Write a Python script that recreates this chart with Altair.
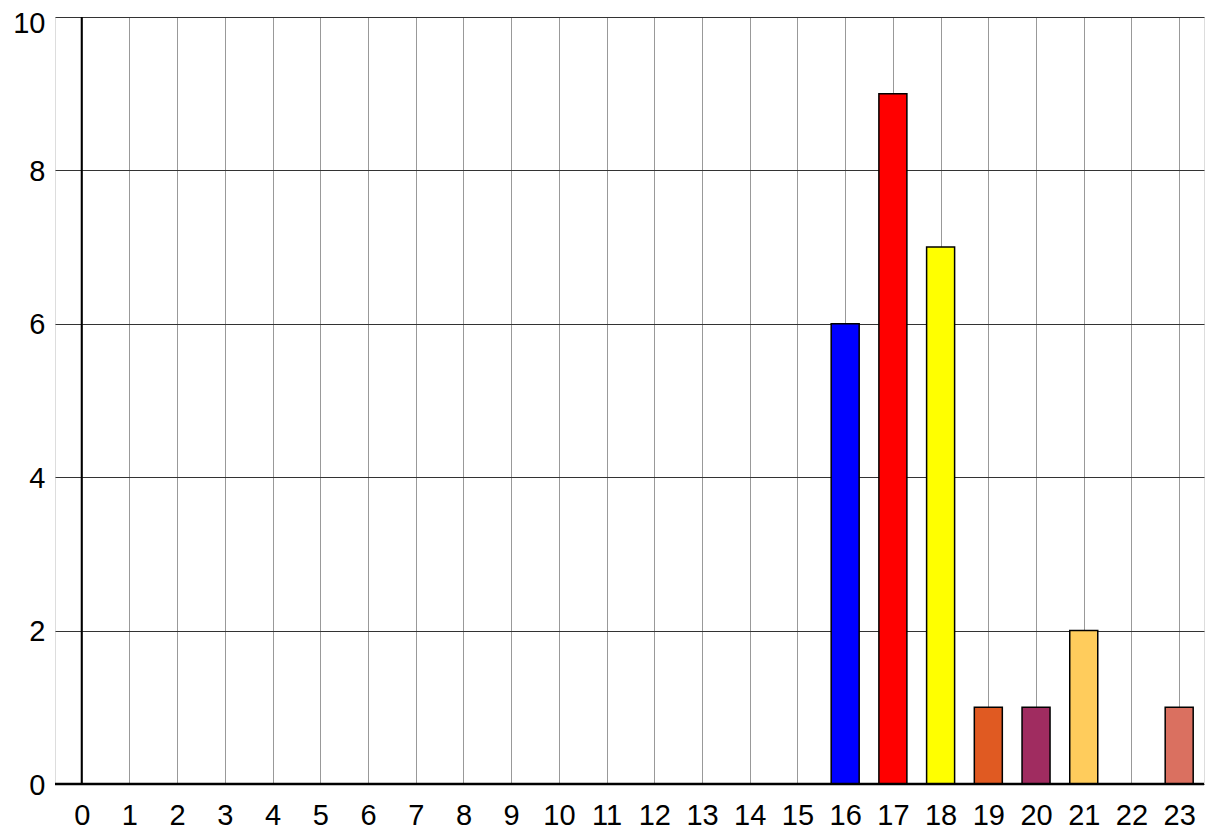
import altair as alt
import pandas as pd

hours = [0, 1, 2, 3, 4, 5, 6, 7, 8, 9, 10, 11, 12, 13, 14, 15, 16, 17, 18, 19, 20, 21, 22, 23]
counts = [0, 0, 0, 0, 0, 0, 0, 0, 0, 0, 0, 0, 0, 0, 0, 0, 6, 9, 7, 1, 1, 2, 0, 1]
colors = ["#cccccc"] * 16 + ["#0000FF", "#FF0000", "#FFFF00", "#E05A22", "#A02C60",
                             "#FFCC5C", "#cccccc", "#DA7060"]
y_ticks = [0, 2, 4, 6, 8, 10]

df = pd.DataFrame({"hour": hours, "count": counts, "color": colors})

FONT = "Liberation Sans"

x_scale = alt.Scale(domain=[-0.56, 23.52], nice=False, zero=False, padding=0)
y_scale = alt.Scale(domain=[0, 10], nice=False)

bars = alt.Chart(df).transform_filter(alt.datum["count"] > 0).mark_bar(
    size=28, stroke="black", strokeWidth=1.5
).encode(
    x=alt.X("hour:Q", scale=x_scale,
            axis=alt.Axis(values=hours, title=None, grid=True, gridColor="#999999",
                          gridWidth=1, gridOpacity=1, domain=False, ticks=False,
                          format="d",
                          labelFont=FONT, labelFontSize=29, labelColor="black",
                          labelPadding=17, labelFlush=False, labelOverlap=False)),
    y=alt.Y("count:Q", scale=y_scale,
            axis=alt.Axis(values=y_ticks, title=None, grid=True, gridColor="#333333",
                          gridWidth=1, gridOpacity=1, domain=False, ticks=False,
                          format="d",
                          labelBaseline={"condition": {"test": "datum.value == 10", "value": "top"},
                                         "value": "middle"},
                          labelOffset={"condition": {"test": "datum.value == 10", "value": -8},
                                       "value": 1},
                          labelFont=FONT, labelFontSize=29, labelColor="black",
                          labelPadding=10, labelFlush=False, labelOverlap=False)),
    color=alt.Color("color:N", scale=None, legend=None),
)

zero_v = alt.Chart(pd.DataFrame({"x": [0]})).mark_rule(color="black", strokeWidth=2).encode(
    x=alt.X("x:Q", scale=x_scale)
)
zero_h = alt.Chart(pd.DataFrame({"y": [0]})).mark_rule(color="black", strokeWidth=2.5).encode(
    y=alt.Y("y:Q", scale=y_scale)
)

chart = alt.layer(bars, zero_v, zero_h).properties(
    width=1149, height=767,
    autosize=alt.AutoSizeParams(type="none"),
    padding={"left": 47, "top": 9, "right": 2, "bottom": 48},
).configure_view(stroke="black", strokeWidth=2).configure(background="white")

chart.save("out.html", embed_options={"renderer": "svg", "actions": False})
